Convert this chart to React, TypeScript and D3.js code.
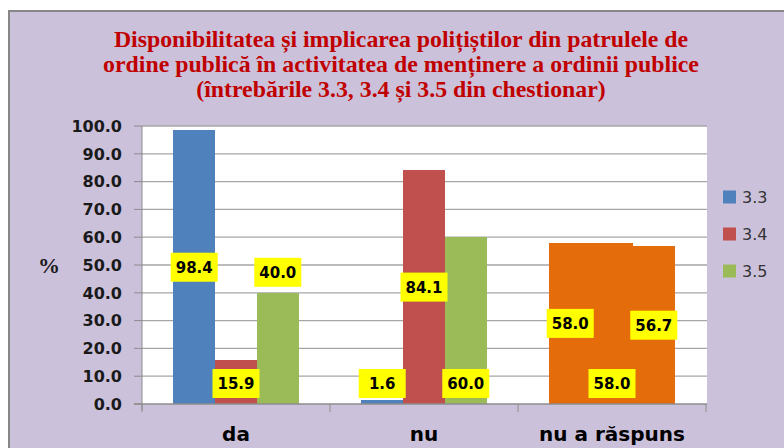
import React from "react";
import * as d3 from "d3";

const categories = ["da", "nu", "nu a răspuns"];
const seriesNames = ["3.3", "3.4", "3.5"];
const values33 = [98.4, 1.6, 58.0];
const values34 = [15.9, 84.1, 58.0];
const values35 = [40.0, 60.0, 56.7];
const yTicks = [0, 10, 20, 30, 40, 50, 60, 70, 80, 90, 100];
const titleLines = [
  "Disponibilitatea și implicarea polițiștilor din patrulele de",
  "ordine publică în activitatea de menținere a ordinii publice",
  "(întrebările 3.3, 3.4 și 3.5 din chestionar)",
];
// label placement mode per series, per category
const labelModes33 = ["mid", "base", "mid"];
const labelModes34 = ["base", "mid", "base"];
const labelModes35 = ["above", "base", "mid"];

const seriesColors = ["#4F81BD", "#C0504D", "#9BBB59"];
const highlightColor = "#E46C0A";

export default function App() {
  const W = 784;
  const H = 448;
  const plot = { left: 142, right: 707, top: 126, bottom: 404 };
  const catRight = 706;

  const x0 = d3.scaleBand<string>().domain(categories).range([plot.left, catRight]).paddingInner(0).paddingOuter(0);
  const x1 = d3
    .scaleBand<string>()
    .domain(seriesNames)
    .range([0, x0.bandwidth()])
    .paddingInner(0)
    .paddingOuter(0.75);
  const y = d3.scaleLinear().domain([0, 100]).range([plot.bottom, plot.top]);

  const allValues = [values33, values34, values35];
  const allModes = [labelModes33, labelModes34, labelModes35];

  const bars: any[] = [];
  const labels: any[] = [];
  categories.forEach((c, ci) => {
    seriesNames.forEach((s, si) => {
      const v = allValues[si][ci];
      const bx = (x0(c) as number) + (x1(s) as number);
      const bw = x1.bandwidth();
      const color = ci === 2 ? highlightColor : seriesColors[si];
      bars.push({ key: c + s, x: bx, w: bw, y: y(v), h: y(0) - y(v), color });
      const mode = allModes[si][ci];
      let cy: number;
      if (mode === "mid") cy = y(v / 2);
      else if (mode === "base") cy = y(0) - 20.5;
      else cy = y(v) - 20.5;
      labels.push({ key: "l" + c + s, cx: bx + bw / 2, cy, text: d3.format(".1f")(v) });
    });
  });

  const labelW = 47;
  const labelH = 29;

  return (
    <svg
      width={W}
      height={H}
      style={{ position: "absolute", left: 0, top: 0, display: "block" }}
      xmlns="http://www.w3.org/2000/svg"
    >
      <rect x={0} y={0} width={W} height={H} fill="#ffffff" />
      <rect x={9} y={10} width={W} height={H} fill="#CCC1DA" />
      <line x1={8} y1={11} x2={W} y2={11} stroke="#878787" strokeWidth={2} />
      <line x1={9} y1={10} x2={9} y2={H} stroke="#878787" strokeWidth={2} />

      {titleLines.map((t, i) => (
        <text
          key={i}
          x={401}
          y={47 + i * 25}
          textAnchor="middle"
          fontFamily="'Liberation Serif', 'Times New Roman', serif"
          fontWeight="bold"
          fontSize={23.8}
          fill="#C00000"
        >
          {t}
        </text>
      ))}

      <rect x={plot.left} y={plot.top} width={plot.right - plot.left} height={plot.bottom - plot.top} fill="#ffffff" />

      {yTicks.map((t) => (
        <g key={t}>
          {t > 0 && (
            <line x1={plot.left} x2={plot.right} y1={y(t)} y2={y(t)} stroke="#A6A6A6" strokeWidth={1.3} />
          )}
          <line x1={134} x2={plot.left} y1={y(t)} y2={y(t)} stroke="#8C8C8C" strokeWidth={1} />
          <text
            x={122}
            y={y(t)}
            dy="0.36em"
            textAnchor="end"
            fontFamily="'DejaVu Sans', Verdana, sans-serif"
            fontWeight="bold"
            fontSize={16}
            fill="#1a1a1a"
          >
            {d3.format(".1f")(t)}
          </text>
        </g>
      ))}

      <line x1={plot.left} x2={plot.left} y1={plot.top} y2={plot.bottom + 6} stroke="#8C8C8C" strokeWidth={1} />

      {bars.map((b) => (
        <rect
          key={b.key}
          x={Math.round(b.x)}
          y={b.y}
          width={Math.round(b.x + b.w) - Math.round(b.x)}
          height={b.h}
          fill={b.color}
          shapeRendering="crispEdges"
        />
      ))}

      <line x1={134} x2={plot.right} y1={plot.bottom} y2={plot.bottom} stroke="#8C8C8C" strokeWidth={1.3} />
      {[...categories.map((c) => x0(c) as number), catRight].map((xv, i) => (
        <line key={"xt" + i} x1={xv} x2={xv} y1={plot.bottom} y2={plot.bottom + 8} stroke="#8C8C8C" strokeWidth={1} />
      ))}

      {labels.map((l) => (
        <g key={l.key}>
          <rect x={l.cx - labelW / 2} y={l.cy - labelH / 2} width={labelW} height={labelH} fill="#FFFF00" />
          <text
            x={l.cx}
            y={l.cy}
            dy="0.36em"
            textAnchor="middle"
            fontFamily="'DejaVu Sans', Verdana, sans-serif"
            fontWeight="bold"
            fontSize={15}
            fill="#000000"
          >
            {l.text}
          </text>
        </g>
      ))}

      {categories.map((c) => (
        <text
          key={"cl" + c}
          x={(x0(c) as number) + x0.bandwidth() / 2}
          y={441}
          textAnchor="middle"
          fontFamily="'DejaVu Sans', Verdana, sans-serif"
          fontWeight="bold"
          fontSize={20}
          fill="#000000"
        >
          {c}
        </text>
      ))}

      <text
        x={49}
        y={265}
        dy="0.36em"
        textAnchor="middle"
        fontFamily="'Liberation Serif', 'Times New Roman', serif"
        fontWeight="bold"
        fontSize={22}
        fill="#1a1a1a"
      >
        %
      </text>

      {seriesNames.map((s, i) => (
        <g key={"lg" + s} transform={`translate(723, ${197 + i * 37})`}>
          <rect x={0} y={-6.5} width={13} height={13} fill={seriesColors[i]} />
          <text
            x={19}
            y={0}
            dy="0.36em"
            fontFamily="'DejaVu Sans', Verdana, sans-serif"
            fontSize={16}
            fill="#333333"
          >
            {s}
          </text>
        </g>
      ))}
    </svg>
  );
}
